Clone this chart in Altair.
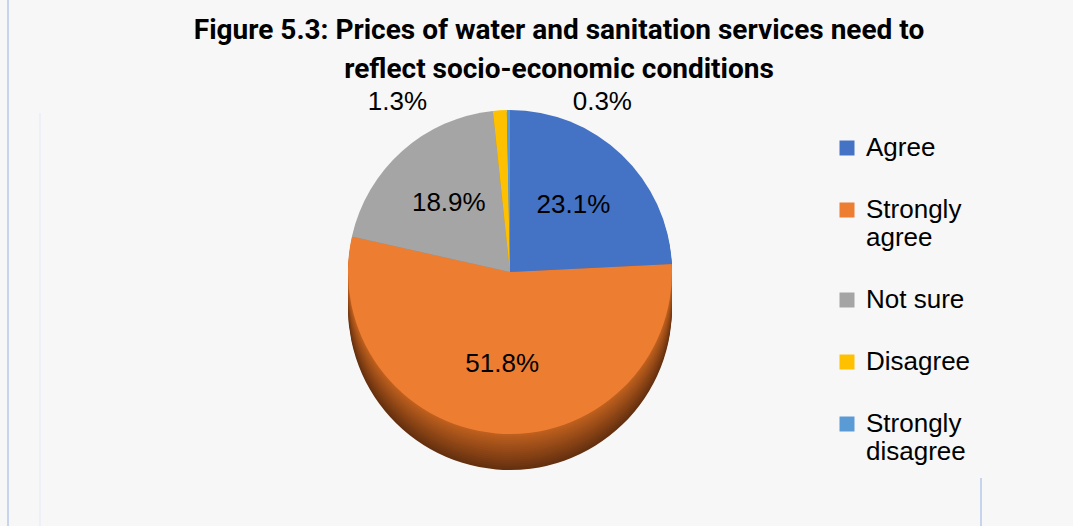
import altair as alt
import pandas as pd

# ---- data ----
categories = ["Agree", "Strongly agree", "Not sure", "Disagree", "Strongly disagree"]
values = [23.1, 51.8, 18.9, 1.3, 0.3]
labels = ["23.1%", "51.8%", "18.9%", "1.3%", "0.3%"]
title_lines = ["Figure 5.3: Prices of water and sanitation services need to",
               "reflect socio-economic conditions"]

# ---- styles ----
top_colors = ["#4472C4", "#ED7D31", "#A5A5A5", "#FFC000", "#5B9BD5"]
side_light = ["#3a62ad", "#c2621f", "#8c8c8c", "#d9a300", "#4d86ba"]
side_dark = ["#1f3763", "#65300f", "#555555", "#7f6000", "#2e5e8a"]
CX, CY, R, DEPTH, NLAYERS = 510, 272, 162, 36, 18
FONT = "Liberation Sans"
TITLE_FONT = "Roboto"

df = pd.DataFrame({"category": categories, "value": values,
                   "label": labels, "idx": list(range(len(categories)))})


def mix(c1, c2, t):
    a = [int(c1[i:i + 2], 16) for i in (1, 3, 5)]
    b = [int(c2[i:i + 2], 16) for i in (1, 3, 5)]
    return "#" + "".join(f"{round(x + (y - x) * t):02x}" for x, y in zip(a, b))


theta = alt.Theta("value:Q", stack=True)
order = alt.Order("idx:Q")

layers = []
# decorative frame lines
frame = pd.DataFrame({"a": [0]})
layers.append(alt.Chart(frame).mark_rule(color="#c7d4ee", strokeWidth=2).encode(
    x=alt.value(8), y=alt.value(0), y2=alt.value(526)))
layers.append(alt.Chart(frame).mark_rule(color="#e3e9f5", strokeWidth=1).encode(
    x=alt.value(40), y=alt.value(113), y2=alt.value(526)))
layers.append(alt.Chart(frame).mark_rule(color="#c7d4ee", strokeWidth=2).encode(
    x=alt.value(981), y=alt.value(478), y2=alt.value(526)))

# 3D side of the pie (stacked, deepest first)
for k in range(NLAYERS, 0, -1):
    d = DEPTH * k / NLAYERS
    t = k / NLAYERS
    dfk = df.copy()
    dfk["side"] = [mix(l, dk, t) for l, dk in zip(side_light, side_dark)]
    layers.append(alt.Chart(dfk).mark_arc(outerRadius=R).encode(
        theta=theta, order=order,
        x=alt.value(CX), y=alt.value(CY + d),
        color=alt.Color("side:N", scale=None)))

# top face
layers.append(alt.Chart(df).mark_arc(outerRadius=R).encode(
    theta=theta, order=order,
    x=alt.value(CX), y=alt.value(CY),
    color=alt.Color("category:N",
                    scale=alt.Scale(domain=categories, range=top_colors),
                    sort=categories,
                    legend=alt.Legend(
                        title=None, orient="none", legendX=834, legendY=135,
                        symbolType="square", symbolSize=225, symbolStrokeWidth=0,
                        labelFont=FONT, labelFontSize=26, labelColor="black",
                        labelOffset=6, rowPadding=36, padding=0, labelLimit=300,
                        labelExpr="indexof(datum.label, 'Strongly ') == 0 ? ['Strongly', substring(datum.label, 9)] : datum.label")
                    )))

# inner labels
layers.append(alt.Chart(df).transform_calculate(
    t="datum.idx < 3 ? datum.label : ''").mark_text(
    radius=92, fontSize=26, font=FONT, color="black").encode(
    theta=theta, order=order, text="t:N",
    x=alt.value(CX), y=alt.value(CY)))

# outer labels
for i, dx in ((3, -102), (4, 94)):
    layers.append(alt.Chart(df).transform_calculate(
        t=f"datum.idx == {i} ? datum.label : ''").mark_text(
        radius=170, fontSize=26, font=FONT, color="black", dx=dx).encode(
        theta=theta, order=order, text="t:N",
        x=alt.value(CX), y=alt.value(CY)))

# title
layers.append(alt.Chart(frame).mark_text(
    font=TITLE_FONT, fontSize=28, fontWeight="bold", color="black",
    baseline="alphabetic", align="center", lineHeight=39).encode(
    x=alt.value(559), y=alt.value(39), text=alt.value(title_lines)))

chart = alt.layer(*layers).resolve_scale(color="independent").properties(
    width=1073, height=526, padding=0, autosize=alt.AutoSizeParams(type="none"),
    background="#f7f7f7"
).configure_view(stroke=None)

chart.save("out.html", embed_options={"renderer": "svg", "actions": False})
